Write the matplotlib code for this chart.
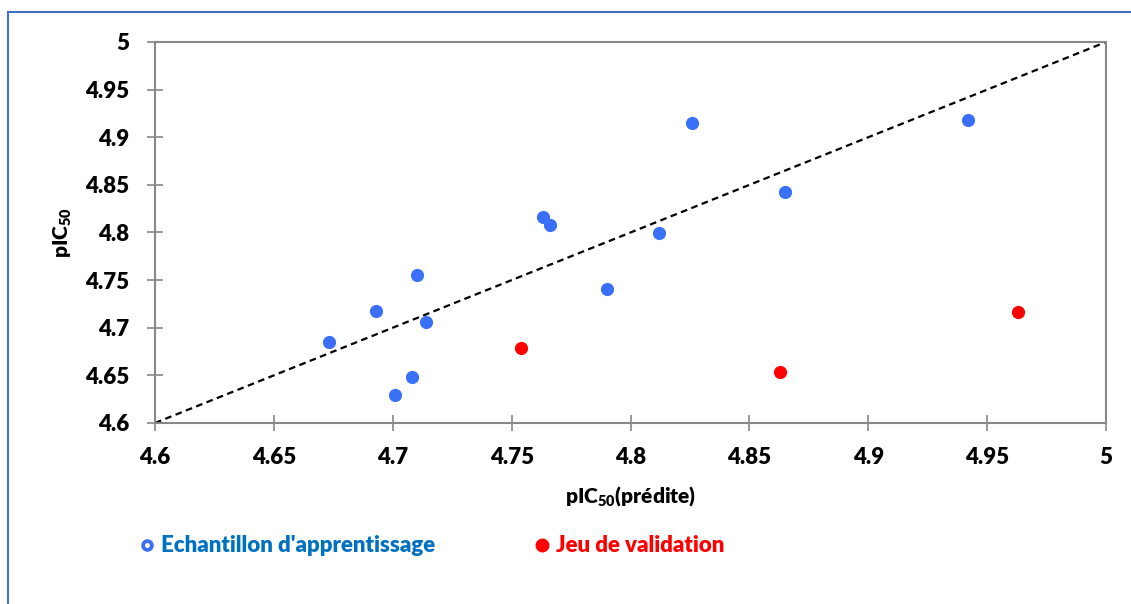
import numpy as np
import matplotlib.pyplot as plt
from matplotlib.lines import Line2D
from matplotlib.legend_handler import HandlerTuple

plt.rcParams['font.family'] = ['Lato', 'DejaVu Sans']
plt.rcParams['font.weight'] = 'heavy'
plt.rcParams['mathtext.fontset'] = 'custom'
plt.rcParams['mathtext.bf'] = 'Lato:heavy'
plt.rcParams['mathtext.rm'] = 'Lato:heavy'

# Echantillon d'apprentissage (training set)
train_pred = [4.826, 4.942, 4.865, 4.763, 4.766, 4.812, 4.790, 4.710, 4.693, 4.714, 4.673, 4.708, 4.701]
train_obs = [4.915, 4.918, 4.843, 4.816, 4.808, 4.799, 4.741, 4.755, 4.718, 4.706, 4.685, 4.648, 4.629]
# Jeu de validation
val_pred = [4.754, 4.863, 4.963]
val_obs = [4.679, 4.654, 4.717]

ticks = [4.6, 4.65, 4.7, 4.75, 4.8, 4.85, 4.9, 4.95, 5]
tick_labels = ['4.6', '4.65', '4.7', '4.75', '4.8', '4.85', '4.9', '4.95', '5']

blue = '#3A6FF7'
red = '#FF0000'
gray = '#888888'

fig = plt.figure(figsize=(11.31, 6.04), dpi=100)
ax = fig.add_axes([0.137, 0.2997, 0.841, 0.6308])

ax.plot([4.6, 5], [4.6, 5], color='black', lw=1.6, dashes=(3, 2), zorder=2)
ax.scatter(train_pred, train_obs, s=90, color=blue, zorder=3, linewidths=0)
ax.scatter(val_pred, val_obs, s=90, color=red, zorder=3, linewidths=0)

ax.set_xlim(4.6, 5)
ax.set_ylim(4.6, 5)
ax.set_xticks(ticks)
ax.set_xticklabels(tick_labels)
ax.set_yticks(ticks)
ax.set_yticklabels(tick_labels)
for s in ax.spines.values():
    s.set_color(gray)
    s.set_linewidth(1.5)
ax.tick_params(direction='inout', length=11, width=1.2, color=gray, labelsize=16)
ax.tick_params(axis='x', pad=12)
ax.tick_params(axis='y', pad=13)
for lab in ax.get_xticklabels() + ax.get_yticklabels():
    lab.set_fontweight('heavy')

ax.set_xlabel(r'pIC$_{\mathbf{50}}$(prédite)', fontsize=15, fontweight='heavy', labelpad=12)
ax.set_ylabel(r'pIC$_{\mathbf{50}}$', fontsize=15, fontweight='heavy', labelpad=8)

# outer chart border (blue, top and left visible)
fig.add_artist(Line2D([8 / 1131, 1], [1 - 12 / 604, 1 - 12 / 604], color='#4472C4', lw=1.5))
fig.add_artist(Line2D([8 / 1131, 8 / 1131], [0, 1 - 12 / 604], color='#4472C4', lw=1.5))

h_train = (Line2D([], [], marker='o', ls='', color=blue, markersize=8),
           Line2D([], [], marker='o', ls='', color='white', markersize=2.5))
h_val = Line2D([], [], marker='o', ls='', color=red, markersize=9)
leg = fig.legend([h_train, h_val], ["Echantillon d'apprentissage", 'Jeu de validation'],
                 handler_map={tuple: HandlerTuple(ndivide=1, pad=0)},
                 loc='center left', bbox_to_anchor=(120 / 1131, 1 - 546 / 604),
                 ncol=2, frameon=False, handlelength=0.6, handletextpad=0.35,
                 columnspacing=4.5, prop={'size': 16, 'weight': 'heavy'},
                 labelcolor=['#0070C0', red])

fig.savefig('out.png', dpi=100)
